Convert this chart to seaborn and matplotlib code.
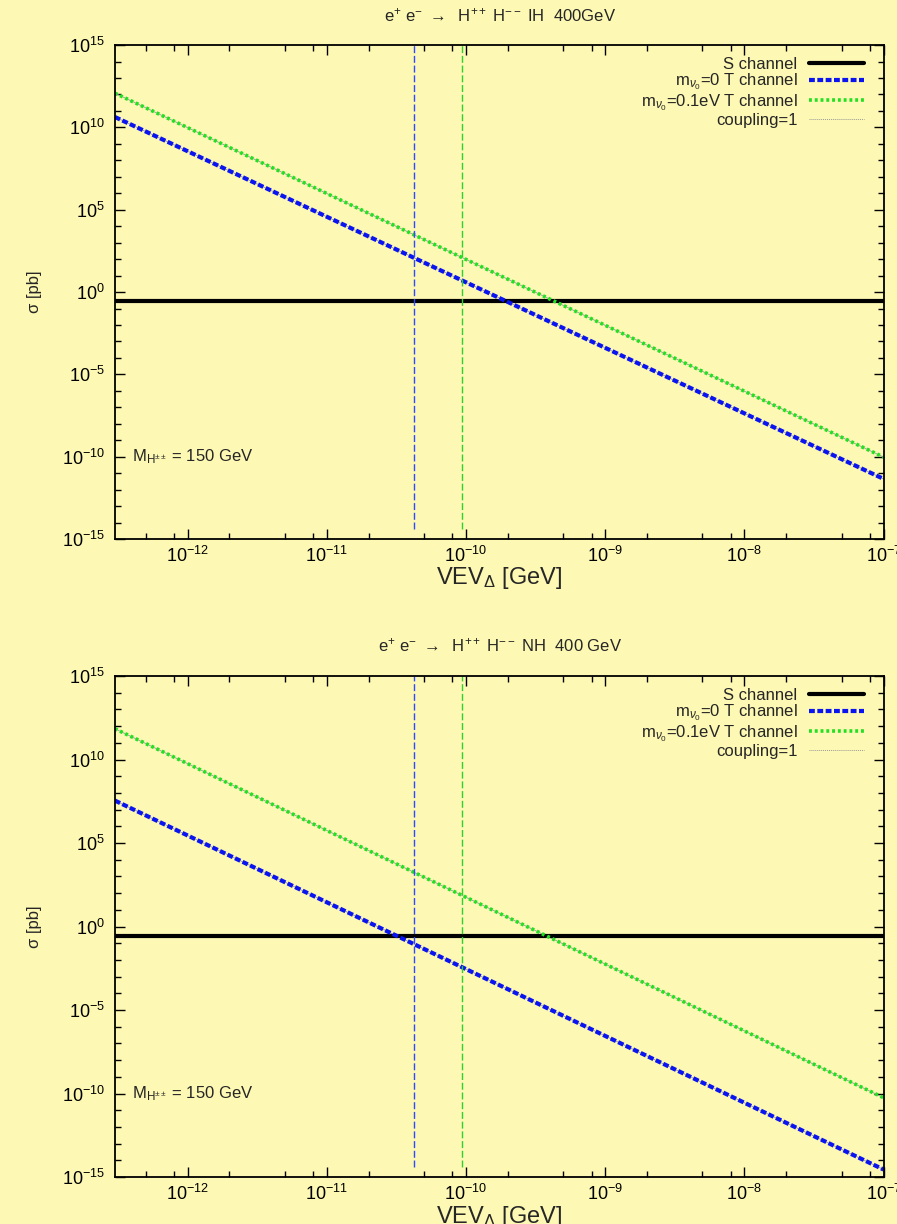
import numpy as np
import pandas as pd
import matplotlib
matplotlib.use("Agg")
import matplotlib.pyplot as plt
import matplotlib.ticker as mticker
from matplotlib.lines import Line2D
import seaborn as sns

# endpoints of the curves (VEV in GeV, sigma in pb)
vev = [3e-13, 1e-7]
s_channel = [0.28, 0.28]
ih_t_m0 = [4.3e10, 4.5e-12]
ih_t_m01 = [1.2e12, 9.5e-11]
nh_t_m0 = [3.5e7, 2.8e-15]
nh_t_m01 = [7e11, 5.6e-11]
# coupling = 1 limits
vev_cut_m0 = 4.2e-11
vev_cut_m01 = 9.3e-11
cut_span = [4e-15, 1e15]

titles = [r"e$^{+}$ e$^{-}$ $\rightarrow$  H$^{++}$ H$^{--}$ IH  400GeV",
          r"e$^{+}$ e$^{-}$ $\rightarrow$  H$^{++}$ H$^{--}$ NH  400 GeV"]
legend_labels = ["S channel", r"m$_{\nu_0}$=0 T channel",
                 r"m$_{\nu_0}$=0.1eV T channel", "coupling=1"]

bg = "#fdf8b3"
blue = "#0a14f0"
green = "#22e022"

sns.set_style("ticks")
plt.rcParams["font.family"] = ["Liberation Sans", "DejaVu Sans"]
plt.rcParams["mathtext.fontset"] = "custom"
plt.rcParams["mathtext.rm"] = "Liberation Sans"
plt.rcParams["mathtext.it"] = "Liberation Sans:italic"
plt.rcParams["mathtext.bf"] = "Liberation Sans:bold"
plt.rcParams["axes.unicode_minus"] = False
plt.rcParams["axes.facecolor"] = bg
plt.rcParams["figure.facecolor"] = bg

fig = plt.figure(figsize=(8.97, 12.24), dpi=100)
ax_top = fig.add_axes([0.128, 0.5596, 0.857, 0.4036])
ax_bot = fig.add_axes([0.128, 0.0384, 0.857, 0.4093])

dash_blue = (0, (1.4, 0.6))
dot_green = (0, (0.8, 0.8))

panels = [(ax_top, ih_t_m0, ih_t_m01, 15), (ax_bot, nh_t_m0, nh_t_m01, 645)]
for i, (ax, m0, m01, ty) in enumerate(panels):
    df = pd.DataFrame({"vev": vev, "s": s_channel, "m0": m0, "m01": m01})
    ax.set_xscale("log")
    ax.set_yscale("log")
    # thin grey guide lines under the T channel curves
    sns.lineplot(data=df, x="vev", y="m0", ax=ax, color="#9a9a9a", lw=0.6, estimator=None)
    sns.lineplot(data=df, x="vev", y="m01", ax=ax, color="#9a9a9a", lw=0.6, estimator=None)
    sns.lineplot(data=df, x="vev", y="s", ax=ax, color="black", lw=3, estimator=None)
    sns.lineplot(data=df, x="vev", y="m0", ax=ax, color=blue, lw=3,
                 linestyle=dash_blue, estimator=None)
    sns.lineplot(data=df, x="vev", y="m01", ax=ax, color=green, lw=2.6,
                 linestyle=dot_green, estimator=None)
    ax.vlines(vev_cut_m0, cut_span[0], cut_span[1], color="#3048ff", lw=1.0,
              linestyles=(0, (5, 2)))
    ax.vlines(vev_cut_m01, cut_span[0], cut_span[1], color="#30d030", lw=1.0,
              linestyles=(0, (5, 2)))

    ax.set_xlim(3e-13, 1e-7)
    ax.set_ylim(1e-15, 1e15)
    ax.set_xticks([1e-12, 1e-11, 1e-10, 1e-9, 1e-8, 1e-7])
    ax.xaxis.set_minor_locator(mticker.LogLocator(base=10, subs=(2, 5, 8), numticks=30))
    ax.xaxis.set_minor_formatter(mticker.NullFormatter())
    ax.set_yticks([10.0 ** k for k in range(-15, 16, 5)])
    ax.yaxis.set_minor_locator(mticker.FixedLocator([10.0 ** k for k in range(-15, 16) if k % 5]))
    ax.yaxis.set_minor_formatter(mticker.NullFormatter())
    ax.tick_params(which="both", direction="in", top=True, right=True, width=1.0,
                   colors="black", labelsize=13)
    ax.tick_params(which="major", length=7)
    ax.tick_params(which="minor", length=4)
    ax.tick_params(axis="x", pad=5)
    ax.tick_params(axis="y", pad=7)
    for sp in ax.spines.values():
        sp.set_linewidth(1.3)
        sp.set_color("black")

    ax.set_xlabel(r"VEV$_{\Delta}$ [GeV]", fontsize=17)
    ax.xaxis.set_label_coords(0.5, -0.079)
    ax.xaxis.label.set_va("center")
    ax.set_ylabel("σ [pb]", fontsize=12)
    ax.yaxis.set_label_coords(-0.105, 0.5)
    ax.yaxis.label.set_va("center")

    ax.text(4.0e-13, 1e-10, r"M$_{\mathrm{H}^{\pm\pm}}$ = 150 GeV", fontsize=12,
            ha="left", va="center")
    fig.text(0.557, 1 - ty / 1224, titles[i], fontsize=12, ha="center", va="center")

    handles = [Line2D([], [], color="black", lw=3),
               Line2D([], [], color=blue, lw=3, linestyle=dash_blue),
               Line2D([], [], color=green, lw=2.6, linestyle=dot_green),
               Line2D([], [], color="#9a9a9a", lw=0.7, linestyle=(0, (1, 1)))]
    ax.legend(handles, legend_labels, loc="upper right", frameon=False, markerfirst=False,
              fontsize=12, handlelength=3.3, labelspacing=0.0, handletextpad=0.7,
              borderaxespad=0.3, bbox_to_anchor=(0.99, 1.0))

fig.savefig("out.png", dpi=100, facecolor=bg)
